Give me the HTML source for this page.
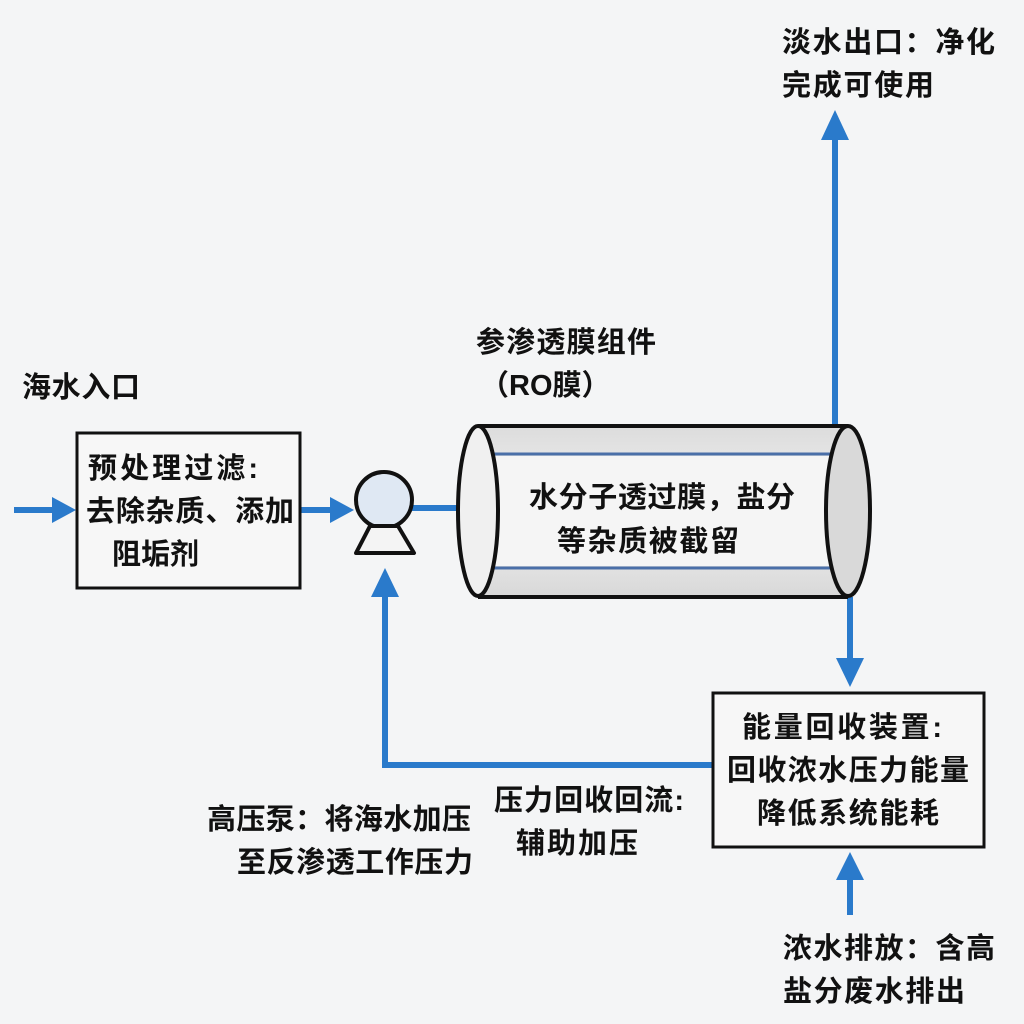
<!DOCTYPE html>
<html><head><meta charset="utf-8"><style>
html,body{margin:0;padding:0;background:#f4f5f6;}
svg{display:block}
text{font-family:"Liberation Sans","Noto Sans CJK SC",sans-serif;fill:#111;font-weight:bold;}
</style></head><body>
<svg width="1024" height="1024" viewBox="0 0 1024 1024" xmlns="http://www.w3.org/2000/svg">
<defs>
<linearGradient id="cyl" x1="0" y1="0" x2="0" y2="1">
<stop offset="0" stop-color="#dcdcdc"/><stop offset="0.5" stop-color="#f4f4f4"/><stop offset="1" stop-color="#d8d8d8"/>
</linearGradient>
</defs>
<rect width="1024" height="1024" fill="#f4f5f6"/>
<g stroke="#2a7acb" stroke-width="6" fill="none">
<line x1="14" y1="510" x2="60" y2="510"/>
<line x1="300" y1="510" x2="340" y2="510"/>
<line x1="412" y1="508" x2="460" y2="508"/>
<line x1="835" y1="425" x2="835" y2="140"/>
<line x1="850" y1="597" x2="850" y2="660"/>
<polyline points="712,765 385,765 385,595"/>
<line x1="850" y1="915" x2="850" y2="880"/>
</g>
<g fill="#2a7acb">
<polygon points="52,497 76,510 52,523"/>
<polygon points="330,497 354,510 330,523"/>
<polygon points="821,140 849,140 835,110"/>
<polygon points="836,658 864,658 850,687"/>
<polygon points="371,597 399,597 385,568"/>
<polygon points="836,880 864,880 850,852"/>
</g>
<rect x="77" y="433" width="223" height="155" fill="#f7f7f7" stroke="#111" stroke-width="3"/>
<text x="88" y="478" font-size="29" textLength="170">预处理过滤:</text>
<text x="86" y="521" font-size="29" textLength="208">去除杂质、添加</text>
<text x="112" y="564" font-size="29">阻垢剂</text>
<circle cx="384" cy="500" r="28" fill="#dfe8f3" stroke="#111" stroke-width="4"/>
<polygon points="370,526 398,526 414,553 356,553" fill="#f4f4f4" stroke="#111" stroke-width="4" stroke-linejoin="round"/>
<rect x="478" y="426" width="370" height="171" fill="url(#cyl)"/>
<line x1="478" y1="426" x2="848" y2="426" stroke="#111" stroke-width="4"/>
<line x1="478" y1="597" x2="848" y2="597" stroke="#111" stroke-width="4"/>
<line x1="490" y1="454" x2="830" y2="454" stroke="#4a6fa8" stroke-width="3"/>
<line x1="490" y1="568" x2="830" y2="568" stroke="#4a6fa8" stroke-width="3"/>
<rect x="490" y="456" width="340" height="110" fill="#f5f5f5"/>
<ellipse cx="478" cy="511" rx="20" ry="85" fill="#f0f0f0" stroke="#111" stroke-width="4"/>
<ellipse cx="848" cy="511" rx="22" ry="85" fill="#d9d9d9" stroke="#111" stroke-width="4"/>
<text x="529" y="507" font-size="29" textLength="266">水分子透过膜，盐分</text>
<text x="557" y="551" font-size="29" textLength="182">等杂质被截留</text>
<rect x="713" y="693" width="271" height="154" fill="#f7f7f7" stroke="#111" stroke-width="3"/>
<text x="742" y="737" font-size="29" textLength="200">能量回收装置:</text>
<text x="727" y="780" font-size="29" textLength="242">回收浓水压力能量</text>
<text x="757" y="823" font-size="29" textLength="182">降低系统能耗</text>
<text x="22" y="397" font-size="29" textLength="118">海水入口</text>
<text x="476" y="352" font-size="29" textLength="180">参渗透膜组件</text>
<text x="480" y="395" font-size="29">（RO膜）</text>
<text x="782" y="52" font-size="29" textLength="213">淡水出口：净化</text>
<text x="782" y="95" font-size="29" textLength="152">完成可使用</text>
<text x="207" y="829" font-size="29" textLength="264">高压泵：将海水加压</text>
<text x="237" y="872" font-size="29" textLength="236">至反渗透工作压力</text>
<text x="494" y="810" font-size="29" textLength="190">压力回收回流:</text>
<text x="516" y="853" font-size="29" textLength="122">辅助加压</text>
<text x="783" y="958" font-size="29" textLength="212">浓水排放：含高</text>
<text x="783" y="1001" font-size="29" textLength="182">盐分废水排出</text>
</svg>
</body></html>
